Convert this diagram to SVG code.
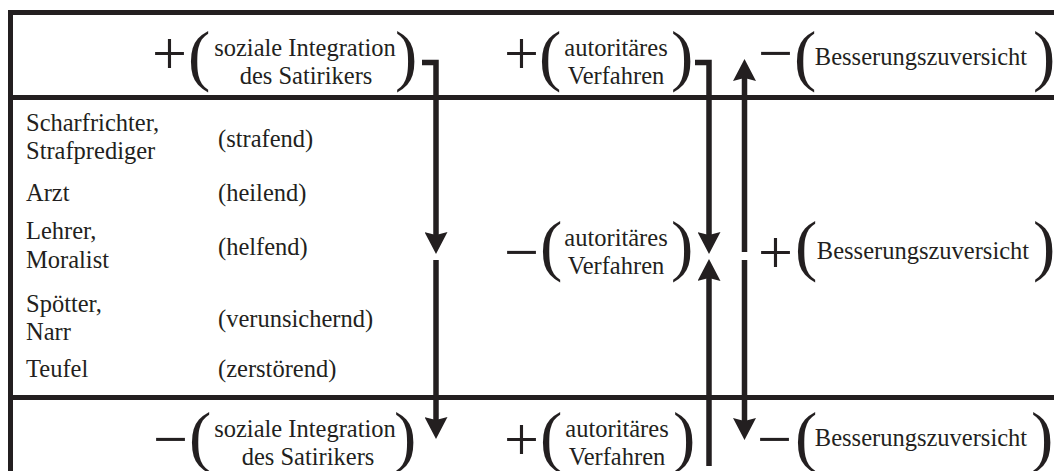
<svg xmlns="http://www.w3.org/2000/svg" width="1054" height="471" viewBox="0 0 1054 471">
  <style>
    .t { font-size: 24.5px; }
    .c { text-anchor: middle; }
    .paren { font-size: 67px; }
    .sign { font-size: 62px; }
    .frame { fill: none; stroke: #231f20; stroke-width: 5; }
    .conn { fill: none; stroke: #231f20; stroke-width: 5.5; stroke-linejoin: miter; marker-end: url(#head); }
  </style>
  <defs>
    <marker id="head" markerUnits="userSpaceOnUse" viewBox="0 0 22 23" markerWidth="22" markerHeight="23" refX="9" refY="11.5" orient="auto">
      <path d="M0,0 L22,11.5 L0,23 L3,11.5 Z" fill="#231f20"/>
    </marker>
  </defs>

  <rect width="1054" height="471" fill="#ffffff"/>

  <!-- table frame and row dividers -->
  <g id="frame">
    <rect class="frame" x="10.5" y="12.5" width="1070" height="480"/>
    <line class="frame" x1="10.5" y1="97.5" x2="1080" y2="97.5"/>
    <line class="frame" x1="10.5" y1="397.5" x2="1080" y2="397.5"/>
  </g>

  <g font-family="'Liberation Serif', 'DejaVu Serif', 'Noto Serif', serif" fill="#231f20">
  <!-- top row -->
  <g id="top-integration">
    <text class="sign" x="152" y="74">+</text>
    <text class="paren" x="188" y="78">(</text>
    <text class="t c" x="305" y="56">soziale Integration</text>
    <text class="t c" x="306" y="84">des Satirikers</text>
    <text class="paren" x="395" y="78">)</text>
  </g>
  <g id="top-verfahren">
    <text class="sign" x="504" y="74">+</text>
    <text class="paren" x="539" y="78">(</text>
    <text class="t c" x="616" y="56">autoritäres</text>
    <text class="t c" x="616" y="84">Verfahren</text>
    <text class="paren" x="671" y="78">)</text>
  </g>
  <g id="top-zuversicht">
    <text class="sign" x="758" y="74">−</text>
    <text class="paren" x="794" y="78">(</text>
    <text class="t c" x="921" y="65">Besserungszuversicht</text>
    <text class="paren" x="1033" y="78">)</text>
  </g>

  <!-- satirist roles -->
  <g id="roles">
    <text class="t" x="26" y="131">Scharfrichter,</text>
    <text class="t" x="26" y="159">Strafprediger</text>
    <text class="t" x="218" y="147">(strafend)</text>
    <text class="t" x="26" y="201">Arzt</text>
    <text class="t" x="218" y="201">(heilend)</text>
    <text class="t" x="26" y="239">Lehrer,</text>
    <text class="t" x="26" y="268">Moralist</text>
    <text class="t" x="218" y="255">(helfend)</text>
    <text class="t" x="26" y="312">Spötter,</text>
    <text class="t" x="26" y="340">Narr</text>
    <text class="t" x="218" y="327">(verunsichernd)</text>
    <text class="t" x="26" y="377">Teufel</text>
    <text class="t" x="218" y="377">(zerstörend)</text>
  </g>

  <!-- middle row -->
  <g id="mid-verfahren">
    <text class="sign" x="504" y="273">−</text>
    <text class="paren" x="540" y="268">(</text>
    <text class="t c" x="616" y="246">autoritäres</text>
    <text class="t c" x="616" y="274">Verfahren</text>
    <text class="paren" x="671" y="268">)</text>
  </g>
  <g id="mid-zuversicht">
    <text class="sign" x="758" y="273">+</text>
    <text class="paren" x="795" y="268">(</text>
    <text class="t c" x="923" y="259">Besserungszuversicht</text>
    <text class="paren" x="1033" y="268">)</text>
  </g>

  <!-- bottom row -->
  <g id="bottom-integration">
    <text class="sign" x="153" y="460">−</text>
    <text class="paren" x="189" y="459">(</text>
    <text class="t c" x="305" y="437">soziale Integration</text>
    <text class="t c" x="308" y="465">des Satirikers</text>
    <text class="paren" x="394" y="459">)</text>
  </g>
  <g id="bottom-verfahren">
    <text class="sign" x="504" y="460">+</text>
    <text class="paren" x="540" y="459">(</text>
    <text class="t c" x="617" y="437">autoritäres</text>
    <text class="t c" x="617" y="465">Verfahren</text>
    <text class="paren" x="673" y="459">)</text>
  </g>
  <g id="bottom-zuversicht">
    <text class="sign" x="757" y="460">−</text>
    <text class="paren" x="795" y="459">(</text>
    <text class="t c" x="921" y="446">Besserungszuversicht</text>
    <text class="paren" x="1031" y="459">)</text>
  </g>
  </g>

  <!-- connectors -->
  <g id="connectors">
    <path class="conn" d="M422,62.5 H436 V241"/>
    <path class="conn" d="M436,260 V426"/>
    <path class="conn" d="M695,62.5 H709 V241"/>
    <path class="conn" d="M709,466 V272"/>
    <path class="conn" d="M744.5,252 V72"/>
    <path class="conn" d="M744.5,260 V427"/>
  </g>
</svg>
